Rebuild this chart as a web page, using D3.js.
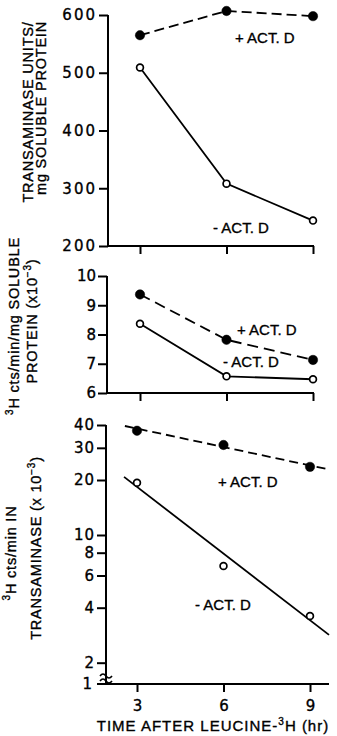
<!DOCTYPE html>
<html><head><meta charset="utf-8">
<script src="https://cdn.jsdelivr.net/npm/d3@7/dist/d3.min.js"></script>
<style>
html,body{margin:0;padding:0;background:#fff;}
svg{display:block;}
text{font-family:"Liberation Sans",Arial,sans-serif;fill:#000;stroke:#000;stroke-width:0.35px;}
</style></head><body>
<svg id="c" width="337" height="736"></svg>
<script>
// ---- data ----
const hours = [3, 6, 9];
const topTicks = [200, 300, 400, 500, 600];
const topPlus = [565, 607, 598];
const topMinus = [509, 308, 244];
const midTicks = [6, 7, 8, 9, 10];
const midPlus = [9.37, 7.82, 7.13];
const midMinus = [8.37, 6.57, 6.47];
const botTicks = [40, 30, 20, 10, 8, 6, 4, 2];
const botPlus = [37.2, 31.1, 23.6];
const botMinus = [19.3, 6.77, 3.6];
const botPlusFitX = [2.58, 9.62];
const botPlusFitY = [39.5, 22.9];
const botMinusFitX = [2.55, 9.66];
const botMinusFitY = [20.8, 2.84];
const xTickLabels = ["3", "6", "9"];

const svg = d3.select("#c");
const lw = 1.8;

function drawPanel(o) {
  const g = svg.append("g");
  g.append("line").attr("x1", o.ax).attr("x2", o.ax).attr("y1", o.y.range()[1]).attr("y2", o.y.range()[0])
    .attr("stroke", "#000").attr("stroke-width", 2);
  g.append("line").attr("x1", o.xStart).attr("x2", o.xEnd).attr("y1", o.y.range()[0]).attr("y2", o.y.range()[0])
    .attr("stroke", "#000").attr("stroke-width", 2);
  const ya = d3.axisLeft(o.y).tickValues(o.yTicks).tickSize(9).tickPadding(o.pad || 2)
    .tickFormat(d3.format("d"));
  const yg = g.append("g").attr("transform", `translate(${o.ax},0)`).call(ya);
  yg.select(".domain").remove();
  yg.selectAll("line").attr("stroke-width", 2);
  yg.selectAll("text").style("font-family", "'DejaVu Sans',sans-serif").style("font-size", "15px")
    .style("letter-spacing", (o.ls || 0) + "px");
  const xa = d3.axisBottom(o.x).tickValues(hours).tickSize(8).tickPadding(8)
    .tickFormat((d, i) => o.xLabels ? o.xLabels[i] : "");
  const xg = g.append("g").attr("transform", `translate(0,${o.y.range()[0]})`).call(xa);
  xg.select(".domain").remove();
  xg.selectAll("line").attr("stroke-width", 2);
  xg.selectAll("text").style("font-family", "'DejaVu Sans',sans-serif").style("font-size", "15px");
  return g;
}

function series(g, x, y, xs, ys, dashed) {
  const line = d3.line().x((d, i) => x(xs[i])).y(d => y(d));
  g.append("path").attr("d", line(ys)).attr("fill", "none").attr("stroke", "#000")
    .attr("stroke-width", lw).attr("stroke-dasharray", dashed ? dashed : null);
}
function points(g, x, y, vals, filled) {
  g.selectAll(null).data(vals).enter().append("circle")
    .attr("cx", (d, i) => x(hours[i])).attr("cy", d => y(d))
    .attr("r", filled ? 4.7 : 3.4)
    .attr("fill", filled ? "#000" : "#fff").attr("stroke", "#000").attr("stroke-width", filled ? 0.5 : 1.7);
}
function label(txt, x, y, size) {
  svg.append("text").attr("x", x).attr("y", y).style("font-size", (size || 15) + "px").text(txt);
}
function ylabel(parts, x, y, ls) {
  const t = svg.append("text").attr("transform", `translate(${x},${y}) rotate(-90)`)
    .attr("text-anchor", "middle").style("font-size", "14.5px").style("letter-spacing", (ls || 0) + "px");
  parts.forEach(p => {
    const s = t.append("tspan").text(p.t);
    if (p.sup) s.attr("dy", p.sup === 1 ? "-6" : null).style("font-size", "10px");
    if (p.down) s.attr("dy", "6");
  });
}

// ---- top panel ----
const xTop = d3.scaleLinear().domain([3, 9]).range([140, 313]);
const yTop = d3.scaleLinear().domain([200, 600]).range([246, 15]);
const gTop = drawPanel({x: xTop, y: yTop, ax: 108, xStart: 108, xEnd: 314, yTicks: topTicks, ls: 2});
series(gTop, xTop, yTop, hours, topPlus, "10,5");
series(gTop, xTop, yTop, hours, topMinus, null);
points(gTop, xTop, yTop, topPlus, true);
points(gTop, xTop, yTop, topMinus, false);
label("+ ACT. D", 235, 43);
label("- ACT. D", 213, 233);

// ---- middle panel ----
const xMid = d3.scaleLinear().domain([3, 9]).range([140, 313]);
const yMid = d3.scaleLinear().domain([6, 10]).range([393, 276]);
const gMid = drawPanel({x: xMid, y: yMid, ax: 107, xStart: 107, xEnd: 314, yTicks: midTicks, ls: 0});
series(gMid, xMid, yMid, hours, midPlus, "11,6");
series(gMid, xMid, yMid, hours, midMinus, null);
points(gMid, xMid, yMid, midPlus, true);
points(gMid, xMid, yMid, midMinus, false);
label("+ ACT. D", 237, 335);
label("- ACT. D", 223, 367);

// ---- bottom panel ----
const xBot = d3.scaleLinear().domain([3, 9]).range([137, 310]);
const yBot = d3.scaleLog().domain([1.529, 40]).range([684, 425]);
const gBot = drawPanel({x: xBot, y: yBot, ax: 106, xStart: 97, xEnd: 329, yTicks: botTicks, ls: 1, xLabels: xTickLabels});
gBot.append("text").attr("x", 92).attr("y", 684).attr("dy", "0.32em").attr("text-anchor", "end")
  .style("font-family", "'DejaVu Sans',sans-serif").style("font-size", "15px").text("1");
[-3, 2].forEach(dy => {
  gBot.append("path").attr("d", `M100,${679 + dy} q3,-4 6,0 t6,0`).attr("fill", "none")
    .attr("stroke", "#000").attr("stroke-width", 1.6);
});
series(gBot, xBot, yBot, botPlusFitX, botPlusFitY, "9,5");
series(gBot, xBot, yBot, botMinusFitX, botMinusFitY, null);
points(gBot, xBot, yBot, botPlus, true);
points(gBot, xBot, yBot, botMinus, false);
label("+ ACT. D", 218, 487);
label("- ACT. D", 195, 610);

// x-axis title
const xt = svg.append("text").attr("x", 213).attr("y", 731).attr("text-anchor", "middle")
  .style("font-size", "15px").style("letter-spacing", "1px");
xt.append("tspan").text("TIME AFTER LEUCINE-");
xt.append("tspan").attr("dy", -6).style("font-size", "10px").text("3");
xt.append("tspan").attr("dy", 6).text("H (hr)");

// y-axis titles
ylabel([{t: "TRANSAMINASE UNITS/"}], 33, 112, 0.8);
ylabel([{t: "mg SOLUBLE PROTEIN"}], 46, 108, 0.8);
ylabel([{t: "3", sup: 1}, {t: "H cts/min/mg SOLUBLE", down: 1}], 19, 326, 0.8);
ylabel([{t: "PROTEIN (x10"}, {t: "−3", sup: 1}, {t: ")", down: 1}], 37, 321, 0.8);
ylabel([{t: "3", sup: 1}, {t: "H cts/min IN", down: 1}], 16, 553, 0.8);
ylabel([{t: "TRANSAMINASE (x 10"}, {t: "−3", sup: 1}, {t: ")", down: 1}], 41, 548, 0.8);
</script>
</body></html>
